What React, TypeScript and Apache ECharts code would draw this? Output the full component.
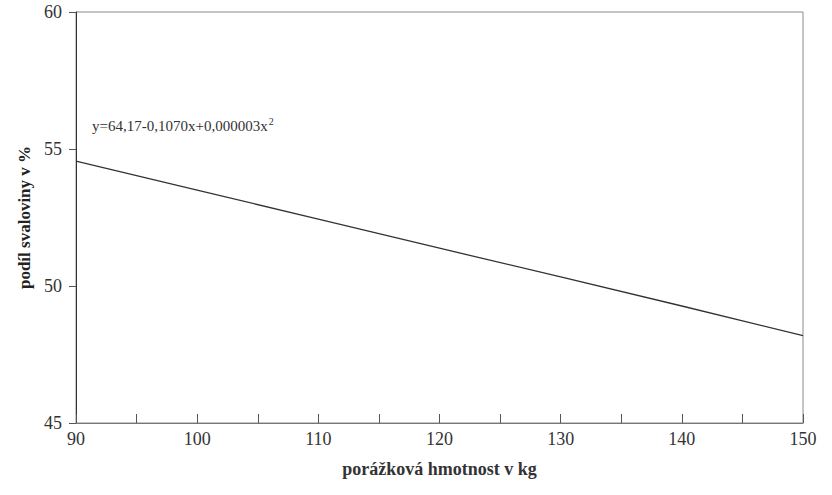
import React, { useEffect, useRef } from "react";
import * as echarts from "echarts";

const xValues = [90, 100, 110, 120, 130, 140, 150];
const yValues = [54.56, 53.5, 52.44, 51.38, 50.33, 49.27, 48.19];
const equationText = "y=64,17-0,1070x+0,000003x";
const xTitle = "porážková hmotnost v kg";
const yTitle = "podíl svaloviny v %";

export default function App() {
  const ref = useRef<HTMLDivElement>(null);
  useEffect(() => {
    if (!ref.current) return;
    const chart = echarts.init(ref.current, undefined, { renderer: "svg" });
    const serif = "Liberation Serif, Times New Roman, serif";
    chart.setOption({
      animation: false,
      backgroundColor: "#ffffff",
      textStyle: { fontFamily: serif },
      grid: {
        left: 76,
        right: 29,
        top: 12,
        bottom: 72,
        show: true,
        borderColor: "#8a8a8a",
        borderWidth: 1,
      },
      xAxis: {
        type: "value",
        min: 90,
        max: 150,
        interval: 5,
        name: xTitle,
        nameLocation: "middle",
        nameGap: 37,
        nameTextStyle: { fontFamily: serif, fontWeight: "bold", fontSize: 18, color: "#333" },
        axisLine: { show: true, onZero: false, lineStyle: { color: "#777", width: 1 } },
        axisTick: { show: true, inside: true, length: 9, lineStyle: { color: "#555" } },
        axisLabel: {
          margin: 7,
          fontFamily: serif,
          fontSize: 18,
          color: "#333",
          formatter: (v: number) => (v % 10 === 0 ? String(v) : ""),
        },
        splitLine: { show: false },
      },
      yAxis: {
        type: "value",
        min: 45,
        max: 60,
        interval: 5,
        name: yTitle,
        nameLocation: "middle",
        nameGap: 39,
        nameTextStyle: { fontFamily: serif, fontWeight: "bold", fontSize: 17, color: "#222" },
        axisLine: { show: true, lineStyle: { color: "#333", width: 1 } },
        axisTick: { show: true, length: 7, lineStyle: { color: "#555" } },
        axisLabel: { margin: 14, fontFamily: serif, fontSize: 18, color: "#333" },
        splitLine: { show: false },
      },
      series: [
        {
          type: "line",
          data: xValues.map((x, i) => [x, yValues[i]]),
          showSymbol: false,
          symbol: "none",
          lineStyle: { color: "#333", width: 1.3 },
        },
      ],
      graphic: [
        {
          type: "text",
          left: 92,
          top: 116,
          style: {
            text: "{a|" + equationText + "}{s|2}",
            rich: {
              a: { fontFamily: serif, fontSize: 15, fill: "#333", color: "#333" },
              s: { fontFamily: serif, fontSize: 10, fill: "#333", color: "#333", verticalAlign: "top", padding: [0, 0, 10, 1] },
            },
          },
        },
      ],
    });
    return () => chart.dispose();
  }, []);
  return (
    <div
      ref={ref}
      style={{ position: "fixed", left: 0, top: 0, width: 832, height: 495 }}
    />
  );
}
